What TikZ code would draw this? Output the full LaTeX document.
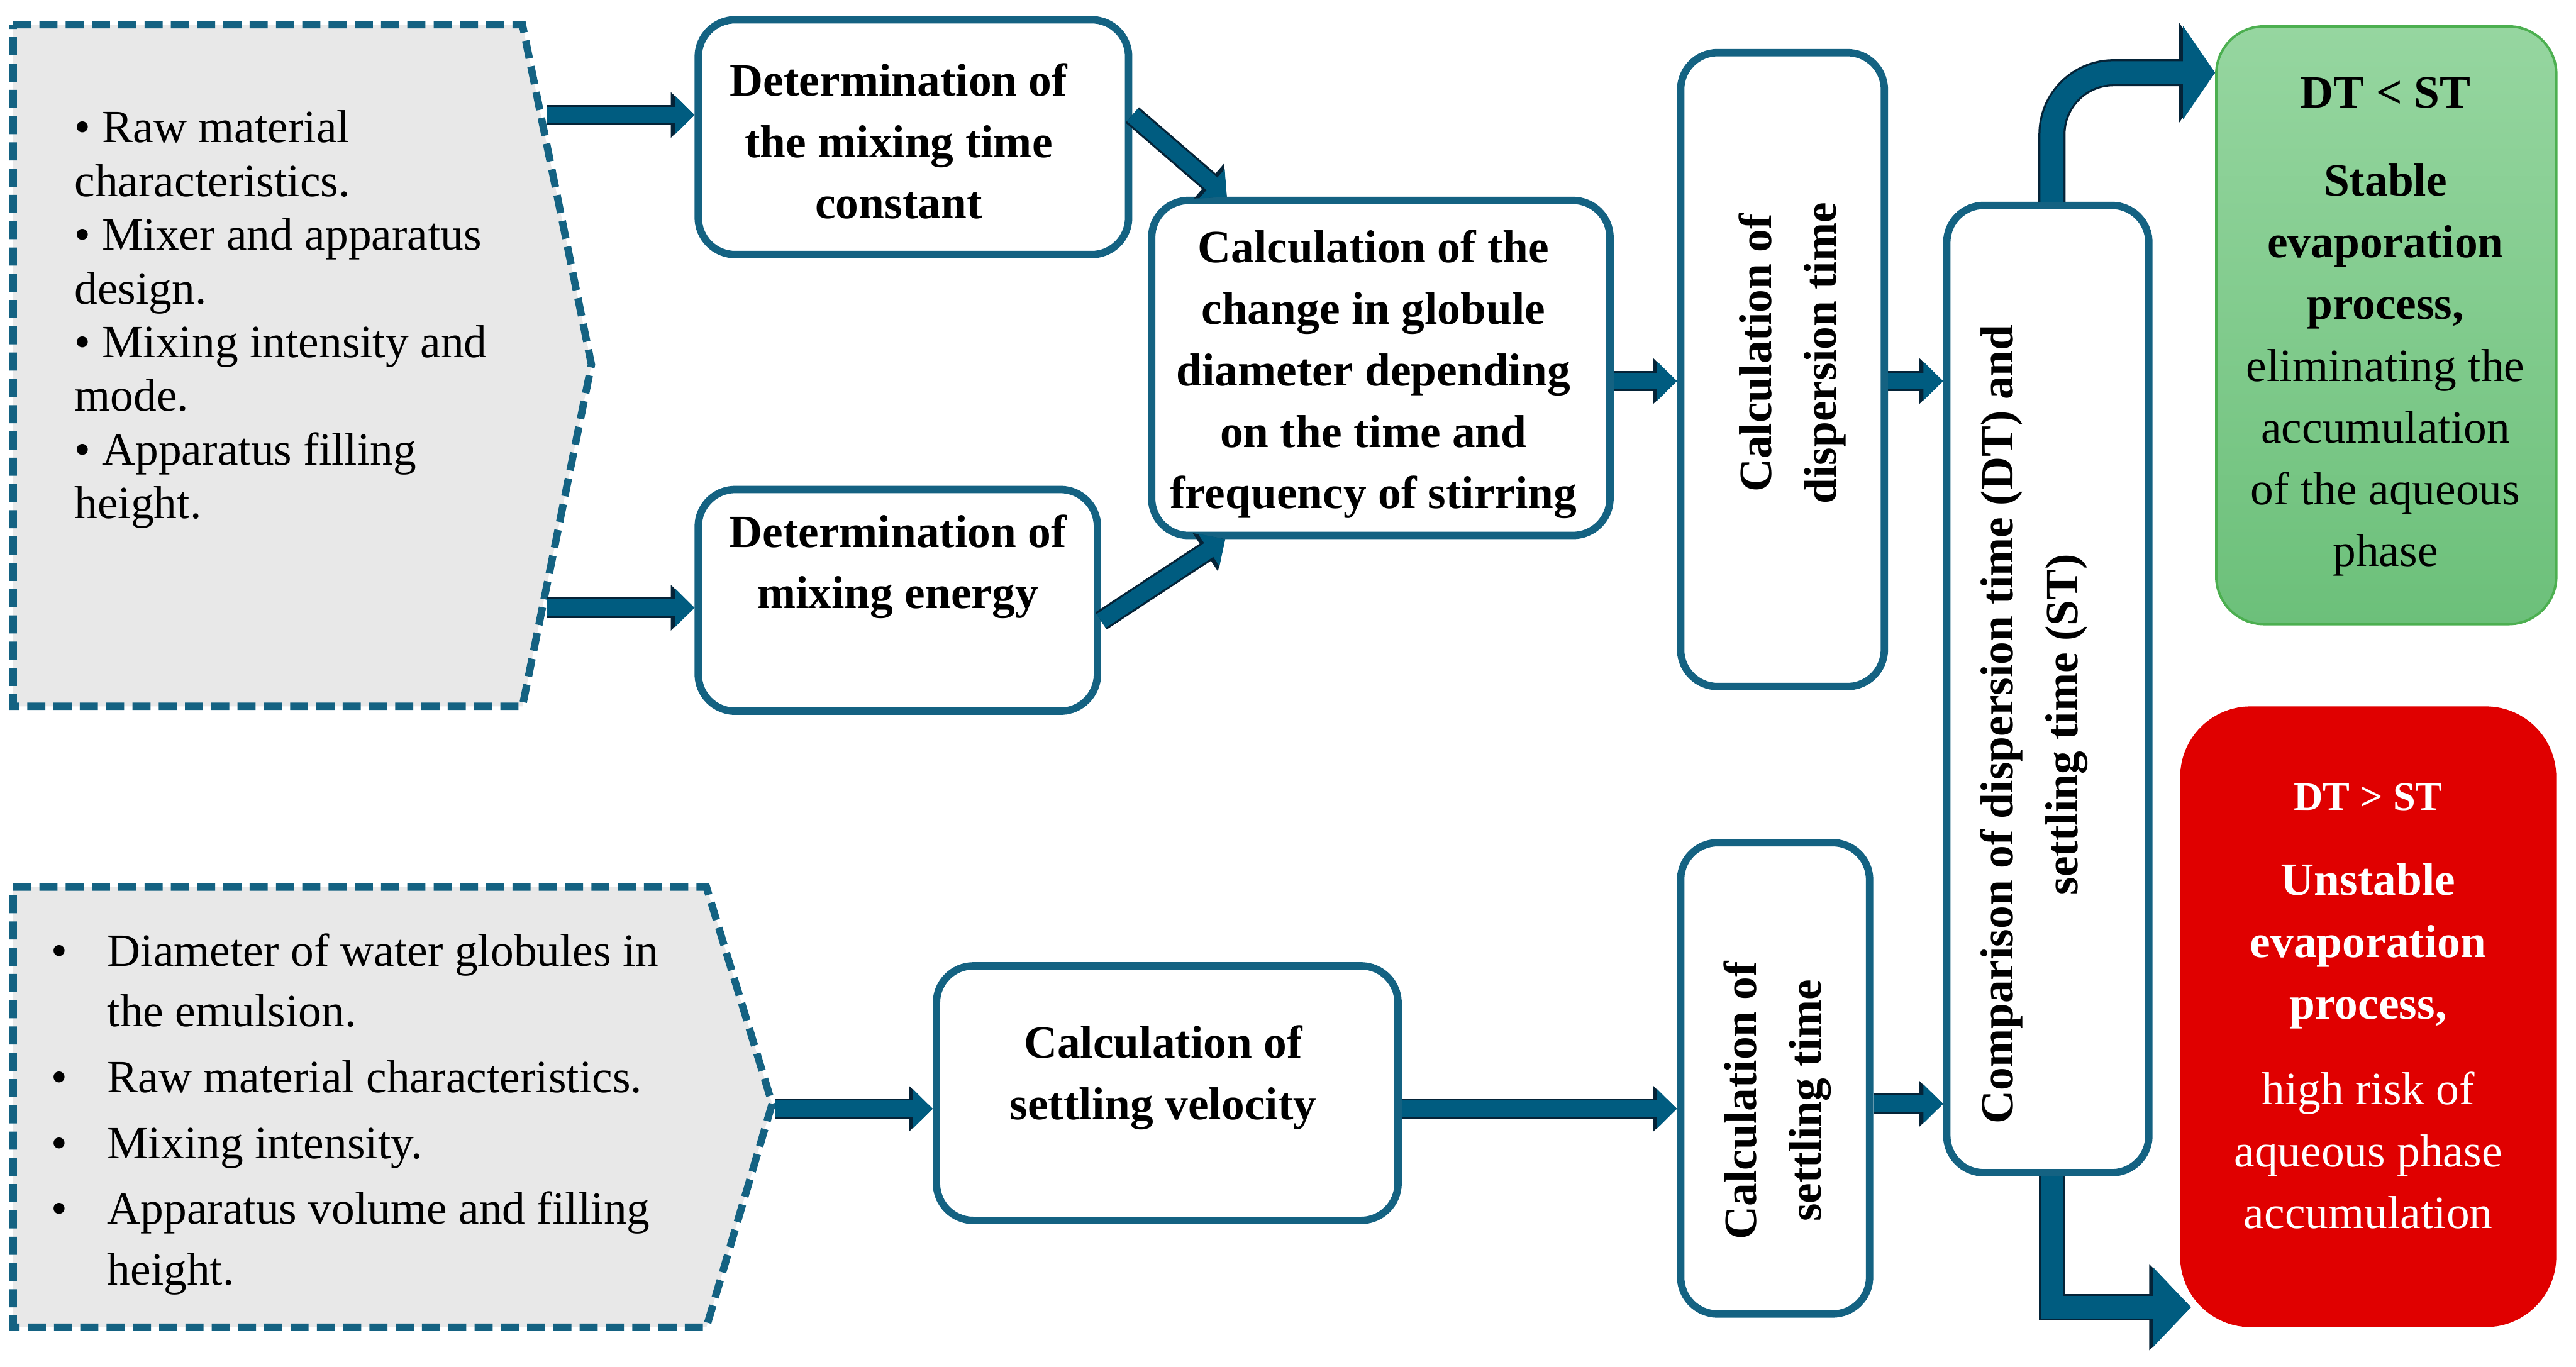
\documentclass[tikz,border=0pt]{standalone}
\usepackage{fontspec}
\setmainfont{Liberation Serif}
\usetikzlibrary{arrows.meta,calc}
\definecolor{boxblue}{RGB}{20,98,130}
\definecolor{arrowfill}{RGB}{0,92,128}
\definecolor{arrowline}{RGB}{5,35,55}
\definecolor{pentfill}{RGB}{232,232,232}
\definecolor{gtop}{RGB}{150,214,160}
\definecolor{gbot}{RGB}{108,192,122}
\definecolor{gborder}{RGB}{76,175,80}
\definecolor{redfill}{RGB}{224,0,0}
\begin{document}
\begin{tikzpicture}[x=0.02cm,y=-0.02cm,
  pbox/.style={draw=boxblue, line width=0.09cm, rounded corners=0.45cm, fill=white, inner sep=0pt},
  btxt/.style={font=\fontsize{16}{21.3}\selectfont\bfseries, align=center, inner sep=0pt},
  rtxt/.style={font=\fontsize{16}{22.5}\selectfont\bfseries, align=center, inner sep=0pt, rotate=90},
  pent/.style={draw=boxblue, fill=pentfill, line width=0.09cm, dash pattern=on 0.22cm off 0.1cm},
  blk/.style={draw=arrowfill, line width=0.2cm, -{Triangle[width=0.46cm,length=0.24cm]},
    preaction={draw=arrowline, line width=0.25cm, -{Triangle[width=0.54cm,length=0.29cm]}}},
  bigblkA/.style={draw=arrowfill, line width=0.28cm, -{Triangle[width=1.12cm,length=0.39cm]},
    preaction={draw=arrowline, line width=0.33cm, -{Triangle[width=1.2cm,length=0.44cm]}}},
  bigblkB/.style={draw=arrowfill, line width=0.27cm, -{Triangle[width=0.94cm,length=0.46cm]},
    preaction={draw=arrowline, line width=0.32cm, -{Triangle[width=1.02cm,length=0.51cm]}}}
]
\useasboundingbox (0,0) rectangle (1568,832);

% input pentagons
\draw[pent] (8,15) -- (318,15) -- (360,222) -- (318,430) -- (8,430) -- cycle;
\node[anchor=north west, inner sep=0pt, align=left, font=\fontsize{16}{18.6}\selectfont] (inA) at (45,67)
  {\textbullet\ Raw material\\characteristics.\\\textbullet\ Mixer and apparatus\\design.\\\textbullet\ Mixing intensity and\\mode.\\\textbullet\ Apparatus filling\\height.};

\draw[pent] (8,540) -- (430,540) -- (470,672) -- (430,808) -- (8,808) -- cycle;
\node[anchor=north west, inner sep=0pt, font=\fontsize{16}{21}\selectfont] (inB) at (31,562)
  {\begin{tabular}{@{}p{0.68cm}@{}l@{}}
   \textbullet & Diameter of water globules in\\
               & the emulsion.\\[1.8pt]
   \textbullet & Raw material characteristics.\\[1.8pt]
   \textbullet & Mixing intensity.\\[1.8pt]
   \textbullet & Apparatus volume and filling\\
               & height.
   \end{tabular}};

% process boxes
\node[pbox, minimum width=5.24cm, minimum height=2.86cm] (mt) at (556,83.5) {};
\node[btxt] (mttxt) at (547,86) {Determination of\\the mixing time\\constant};
\node[pbox, minimum width=4.86cm, minimum height=2.7cm] (me) at (546.5,365.5) {};
\node[btxt] (metxt) at (546.5,345) {Determination of\\mixing energy};

\node[pbox, minimum width=5.58cm, minimum height=4.08cm] (calc) at (840.5,224) {};
\node[btxt] (calctxt) at (836,228)
  {Calculation of the\\change in globule\\diameter depending\\on the time and\\frequency of stirring};

\node[pbox, minimum width=2.48cm, minimum height=7.72cm] (disp) at (1085,225) {};
\node[rtxt] (disptxt) at (1091,215) {Calculation of\\dispersion time};

\node[pbox, minimum width=2.46cm, minimum height=11.78cm] (cmp) at (1246.5,419.5) {};
\node[rtxt] (cmptxt) at (1238,441) {Comparison of dispersion time (DT) and\\settling time (ST)};

\node[pbox, minimum width=5.62cm, minimum height=3.1cm] (sv) at (710.5,665.5) {};
\node[btxt] (svtxt) at (708,656) {Calculation of\\settling velocity};

\node[pbox, minimum width=2.3cm, minimum height=5.74cm] (st) at (1080.5,656.5) {};
\node[rtxt] (sttxt) at (1082,670) {Calculation of\\settling time};

% outcome boxes
\node[draw=gborder, line width=0.03cm, top color=gtop, bottom color=gbot, rounded corners=0.58cm,
      minimum width=4.14cm, minimum height=7.28cm, inner sep=0pt] (green) at (1452.5,198) {};
\node[align=center, inner sep=0pt, font=\fontsize{16}{21.4}\selectfont] (greentxt) at (1452,199)
  {\textbf{DT < ST}\\[9pt]\textbf{Stable}\\\textbf{evaporation}\\\textbf{process,}\\eliminating the\\accumulation\\of the aqueous\\phase};

\node[fill=redfill, rounded corners=0.86cm, minimum width=4.58cm, minimum height=7.56cm, inner sep=0pt] (red) at (1441.5,619) {};
\node[align=center, inner sep=0pt, text=white, font=\fontsize{16}{21.5}\selectfont] (redtxt) at (1441.5,612.5)
  {{\fontsize{14}{17}\selectfont\textbf{DT > ST}}\\[8pt]\textbf{Unstable}\\\textbf{evaporation}\\\textbf{process,}\\[8pt]high risk of\\aqueous phase\\accumulation};

% connectors
\coordinate (t1) at (333,70);
\coordinate (t2) at (333,370);
\coordinate (t3) at (472,675);
\coordinate (m1) at (0,232);
\coordinate (m2) at (0,672);
\draw[blk] (t1) -- (t1 -| mt.west);
\draw[blk] (t2) -- (t2 -| me.west);
\draw[blk] ([yshift=0.27cm]mt.east) -- ([xshift=0.96cm]calc.north west);
\draw[blk] ([yshift=-0.25cm]me.east) -- ([xshift=0.94cm]calc.south west);
\draw[blk] (calc.east |- m1) -- (disp.west |- m1);
\draw[blk] (disp.east |- m1) -- (cmp.west |- m1);
\draw[blk] (t3) -- (t3 -| sv.west);
\draw[blk] (sv.east |- t3) -- (st.west |- t3);
\draw[blk] (st.east |- m2) -- (cmp.west |- m2);
\draw[bigblkA, rounded corners=0.75cm] ([xshift=0.05cm]cmp.north) |- ([yshift=-0.58cm]green.north west);
\draw[bigblkB] ([xshift=0.05cm]cmp.south) |- ([xshift=0.14cm,yshift=0.25cm]red.south west);
\end{tikzpicture}
\end{document}
